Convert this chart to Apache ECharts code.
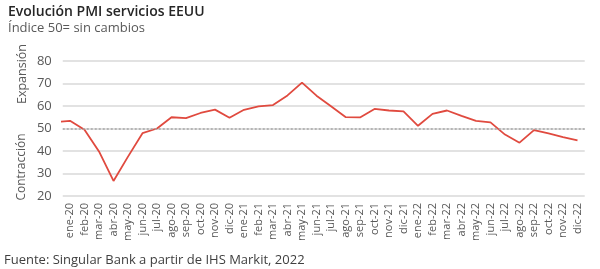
<!DOCTYPE html>
<html><head><meta charset="utf-8">
<script src="https://cdn.jsdelivr.net/npm/echarts@6/dist/echarts.min.js"></script>
<style>html,body{margin:0;padding:0;background:#fff}#c{width:600px;height:269px}</style>
</head><body><div id="c"></div>
<script>
var months = ['ene-20','feb-20','mar-20','abr-20','may-20','jun-20','jul-20','ago-20','sep-20','oct-20','nov-20','dic-20',
'ene-21','feb-21','mar-21','abr-21','may-21','jun-21','jul-21','ago-21','sep-21','oct-21','nov-21','dic-21',
'ene-22','feb-22','mar-22','abr-22','may-22','jun-22','jul-22','ago-22','sep-22','oct-22','nov-22','dic-22'];
var priorValue = 52.8; // dic-19, partly visible at the left edge
var pmi = [53.4,49.4,39.8,26.7,37.5,47.9,50.0,55.0,54.6,56.9,58.4,54.8,
58.3,59.8,60.4,64.7,70.4,64.6,59.9,55.1,54.9,58.7,58.0,57.6,
51.2,56.5,58.0,55.6,53.4,52.7,47.3,43.7,49.3,47.8,46.2,44.7];
var yTicks = [20,30,40,50,60,70,80];
var neutral = 50;

var lineData = [[-1, priorValue]];
pmi.forEach(function(v,i){ lineData.push([i, v]); });
var idx = months.map(function(m,i){ return i; });

var font = 'Open Sans';
var chart = echarts.init(document.getElementById('c'));
chart.setOption({
  animation:false,
  textStyle:{fontFamily:font},
  title:{
    text:'Evolución PMI servicios EEUU',
    subtext:'Índice 50= sin cambios',
    left:3, top:0,
    textStyle:{fontFamily:font,fontSize:14,fontWeight:600,color:'#262626'},
    subtextStyle:{fontFamily:font,fontSize:13,color:'#595959'},
    itemGap:3
  },
  grid:{left:62.75,right:15.25,top:61,bottom:73},
  xAxis:{
    type:'value', min:-0.5, max:months.length-0.5,
    axisLine:{show:false}, axisTick:{show:false}, splitLine:{show:false},
    axisLabel:{customValues:idx, rotate:90, margin:7, fontSize:11, color:'#595959',
      formatter:function(v){ return months[Math.round(v)]; }}
  },
  yAxis:{
    type:'value', min:yTicks[0], max:yTicks[yTicks.length-1], interval:10,
    axisLine:{show:false}, axisTick:{show:false},
    axisLabel:{fontSize:13,color:'#595959',margin:11},
    splitLine:{lineStyle:{color:'#d9d9d9',width:1.5}}
  },
  graphic:[
    {type:'text', x:22, y:74, rotation:Math.PI/2, style:{text:'Expansión', font:'12.5px "Open Sans"', fill:'#595959', align:'center', verticalAlign:'middle'}},
    {type:'text', x:22, y:167, rotation:Math.PI/2, style:{text:'Contracción', font:'12px "Open Sans"', fill:'#595959', align:'center', verticalAlign:'middle'}},
    {type:'text', left:4, bottom:2, style:{text:'Fuente: Singular Bank a partir de IHS Markit, 2022', font:'13px "Open Sans"', fill:'#404040'}}
  ],
  series:[{
    type:'line', data:lineData, symbol:'none', clip:true,
    lineStyle:{color:'#e04a3f', width:1.8},
    markLine:{silent:true, symbol:'none', label:{show:false},
      lineStyle:{color:'#a6a6a6', type:[2,2], width:1.5},
      data:[{yAxis:neutral}]}
  }]
});
</script></body></html>
